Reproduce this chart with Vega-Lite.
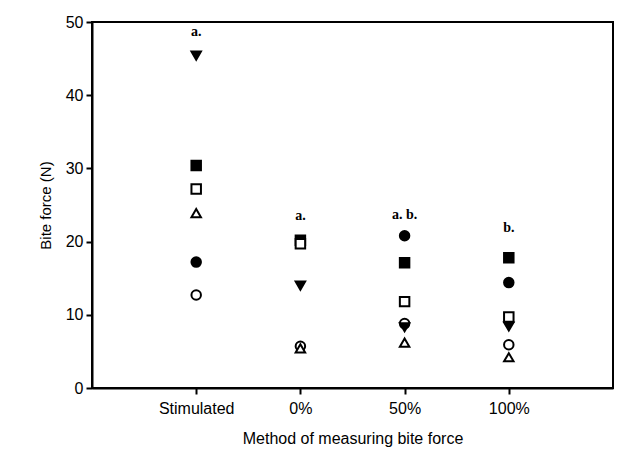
{
  "$schema": "https://vega.github.io/schema/vega-lite/v6.json",
  "width": 521,
  "height": 366,
  "autosize": "none",
  "padding": {"left": 92, "top": 22, "right": 22, "bottom": 64},
  "background": "white",
  "config": {
    "view": {"stroke": "black", "strokeWidth": 2},
    "font": "Liberation Sans"
  },
  "datasets": {
    "points": [
      {"method": "Stimulated", "series": "A", "rank": 5, "force": 45.4},
      {"method": "Stimulated", "series": "B", "rank": 2, "force": 30.4},
      {"method": "Stimulated", "series": "C", "rank": 3, "force": 27.2},
      {"method": "Stimulated", "series": "D", "rank": 6, "force": 23.9},
      {"method": "Stimulated", "series": "E", "rank": 1, "force": 17.2},
      {"method": "Stimulated", "series": "F", "rank": 4, "force": 12.7},
      {"method": "0%", "series": "A", "rank": 5, "force": 14.0},
      {"method": "0%", "series": "B", "rank": 2, "force": 20.2},
      {"method": "0%", "series": "C", "rank": 3, "force": 19.7},
      {"method": "0%", "series": "D", "rank": 6, "force": 5.4},
      {"method": "0%", "series": "F", "rank": 4, "force": 5.7},
      {"method": "50%", "series": "A", "rank": 5, "force": 8.3},
      {"method": "50%", "series": "B", "rank": 2, "force": 17.1},
      {"method": "50%", "series": "C", "rank": 3, "force": 11.8},
      {"method": "50%", "series": "D", "rank": 6, "force": 6.2},
      {"method": "50%", "series": "E", "rank": 1, "force": 20.8},
      {"method": "50%", "series": "F", "rank": 4, "force": 8.8},
      {"method": "100%", "series": "A", "rank": 5, "force": 8.4},
      {"method": "100%", "series": "B", "rank": 2, "force": 17.8},
      {"method": "100%", "series": "C", "rank": 3, "force": 9.7},
      {"method": "100%", "series": "D", "rank": 6, "force": 4.2},
      {"method": "100%", "series": "E", "rank": 1, "force": 14.4},
      {"method": "100%", "series": "F", "rank": 4, "force": 5.9}
    ],
    "labels": [
      {"method": "Stimulated", "label": "a.", "force": 48.6},
      {"method": "0%", "label": "a.", "force": 23.5},
      {"method": "50%", "label": "a. b.", "force": 23.6},
      {"method": "100%", "label": "b.", "force": 21.9}
    ]
  },
  "layer": [
    {
      "data": {"name": "points"},
      "mark": {"type": "point", "filled": false, "size": 90, "stroke": "black", "strokeWidth": 2, "opacity": 1},
      "encoding": {
        "x": {
          "field": "method", "type": "nominal",
          "sort": ["Stimulated", "0%", "50%", "100%"],
          "scale": {"type": "point", "padding": 1},
          "axis": {
            "title": "Method of measuring bite force",
            "titleFont": "Liberation Sans", "titleFontSize": 16, "titleFontWeight": "normal",
            "titleColor": "black", "titlePadding": 14,
            "labelFont": "Liberation Sans", "labelFontSize": 16, "labelColor": "black",
            "labelAngle": 0, "labelPadding": 6,
            "domainColor": "black", "domainWidth": 2,
            "tickColor": "black", "tickWidth": 2, "tickSize": 6,
            "grid": false
          }
        },
        "y": {
          "field": "force", "type": "quantitative",
          "scale": {"domain": [0, 50], "nice": false},
          "axis": {
            "title": "Bite force (N)",
            "values": [0, 10, 20, 30, 40, 50],
            "titleFont": "Liberation Sans", "titleFontSize": 15, "titleFontWeight": "normal",
            "titleColor": "black", "titlePadding": 12,
            "labelFont": "Liberation Sans", "labelFontSize": 16, "labelColor": "black",
            "labelPadding": 3,
            "domainColor": "black", "domainWidth": 2,
            "tickColor": "black", "tickWidth": 2, "tickSize": 6,
            "grid": false
          }
        },
        "shape": {
          "field": "series", "type": "nominal",
          "scale": {"domain": ["A", "B", "C", "D", "E", "F"], "range": ["triangle-down", "square", "square", "triangle-up", "circle", "circle"]},
          "legend": null
        },
        "fill": {
          "field": "series", "type": "nominal",
          "scale": {"domain": ["A", "B", "C", "D", "E", "F"], "range": ["black", "black", "white", "white", "black", "white"]},
          "legend": null
        },
        "order": {"field": "rank", "type": "quantitative"}
      }
    },
    {
      "data": {"name": "labels"},
      "mark": {"type": "text", "font": "Liberation Serif", "fontWeight": "bold", "fontSize": 14, "color": "black"},
      "encoding": {
        "x": {"field": "method", "type": "nominal", "sort": ["Stimulated", "0%", "50%", "100%"]},
        "y": {"field": "force", "type": "quantitative"},
        "text": {"field": "label"}
      }
    }
  ]
}
